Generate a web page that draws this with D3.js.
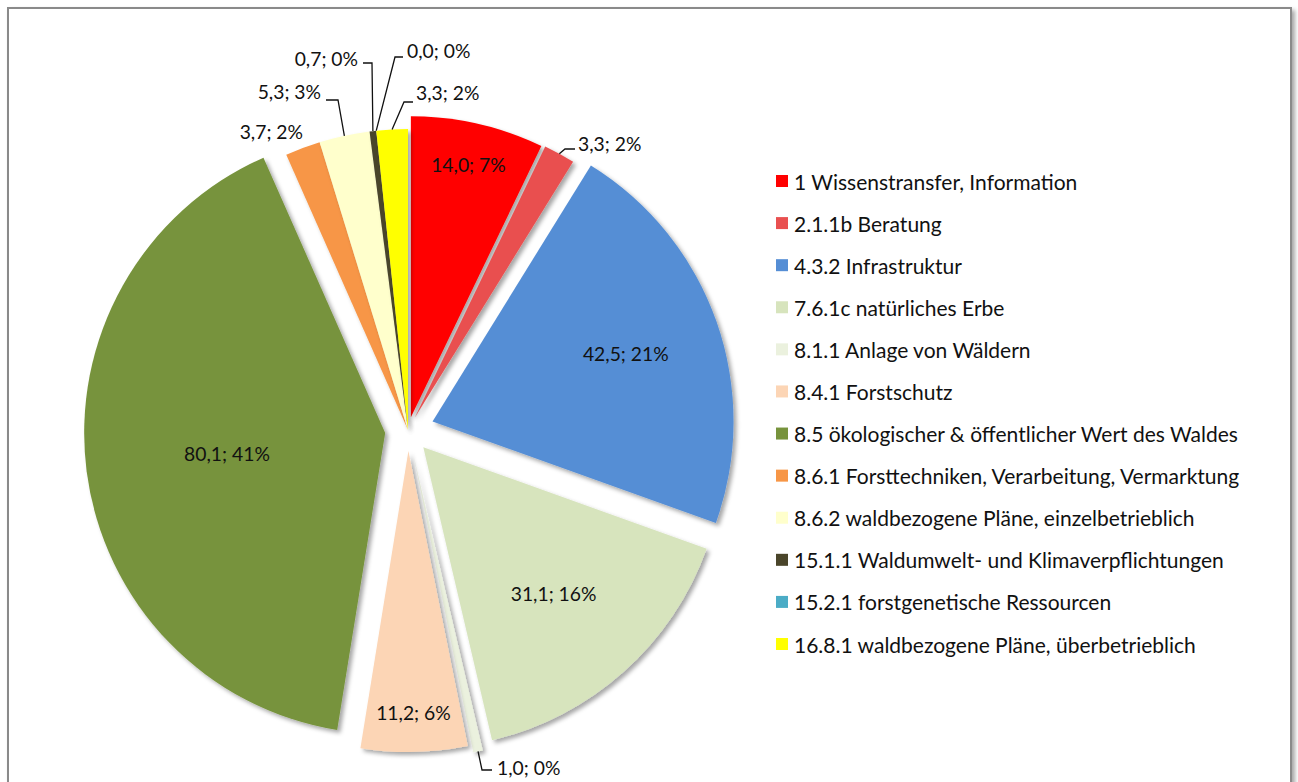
<!DOCTYPE html>
<html>
<head>
<meta charset="utf-8">
<script src="https://cdn.jsdelivr.net/npm/d3@7"></script>
<style>
  body { margin: 0; background: #fff; }
  text { font-family: Lato, "Noto Sans", sans-serif; fill: #111; }
</style>
</head>
<body>
<svg id="chart" width="1298" height="782"></svg>
<script>
// data
const categories = [
  "1 Wissenstransfer, Information",
  "2.1.1b Beratung",
  "4.3.2 Infrastruktur",
  "7.6.1c natürliches Erbe",
  "8.1.1 Anlage von Wäldern",
  "8.4.1 Forstschutz",
  "8.5 ökologischer & öffentlicher Wert des Waldes",
  "8.6.1 Forsttechniken, Verarbeitung, Vermarktung",
  "8.6.2 waldbezogene  Pläne, einzelbetrieblich",
  "15.1.1 Waldumwelt-  und Klimaverpflichtungen",
  "15.2.1 forstgenetische Ressourcen",
  "16.8.1 waldbezogene Pläne, überbetrieblich"
];
const values = [14.0, 3.3, 42.5, 31.1, 1.0, 11.2, 80.1, 3.7, 5.3, 0.7, 0.0, 3.3];
const percents = [7, 2, 21, 16, 0, 6, 41, 2, 3, 0, 0, 2];
const colors = ["#ff0000", "#e95050", "#558ed5", "#d7e4bd", "#ebf1de", "#fcd5b5",
                "#77933c", "#f79646", "#ffffcc", "#4a452a", "#4bacc6", "#ffff00"];

// styling / layout
const cx = 408, cy = 430, radius = 301;
const explode = [13, 14, 26, 23, 28, 21, 23, 0, 0, 0, 0, 0];
const insideLabels = {0: 0.86, 2: 0.68, 3: 0.65, 5: 0.87, 6: 0.53};
// outside labels: leader polyline points and text spot, relative to pie centre
const outsideLabels = {
  1:  {pts: [[157, -281], [167, -281]], tx: 170, ty: -287, anchor: "start"},
  4:  {pts: [[74, 340], [84, 340]], tx: 89, ty: 337, anchor: "start"},
  7:  {pts: null, tx: -105, ty: -299, anchor: "end"},
  8:  {pts: [[-70, -330], [-82, -330]], tx: -87, ty: -339, anchor: "end"},
  9:  {pts: [[-36, -367], [-45, -367]], tx: -50, ty: -372, anchor: "end"},
  10: {pts: [[-13, -373], [-5, -373]], tx: -1, ty: -380, anchor: "start"},
  11: {pts: [[-4, -328], [5, -328]], tx: 8, ty: -338, anchor: "start"}
};
const labelSize = "19.3px", legendSize = "21px";

const fmt = v => d3.format(".1f")(v).replace(".", ",");
const labelText = i => fmt(values[i]) + "; " + percents[i] + "%";

const svg = d3.select("#chart");
const defs = svg.append("defs");
const sh = defs.append("filter").attr("id", "shadow")
  .attr("x", "-10%").attr("y", "-10%").attr("width", "130%").attr("height", "130%");
sh.append("feDropShadow").attr("dx", 3).attr("dy", 3).attr("stdDeviation", 2.2)
  .attr("flood-color", "#000").attr("flood-opacity", 0.35);

// chart frame
svg.append("rect")
  .attr("x", 8).attr("y", 8).attr("width", 1283).attr("height", 800)
  .attr("fill", "#fff").attr("stroke", "#8a8a8a").attr("stroke-width", 2)
  .attr("filter", "url(#shadow)");

const pie = d3.pie().sort(null).value(d => d);
const arcs = pie(values);
const arc = d3.arc().innerRadius(0).outerRadius(radius);

const mid = d => (d.startAngle + d.endAngle) / 2;
const shift = (d, i) => [explode[i] * Math.sin(mid(d)), -explode[i] * Math.cos(mid(d))];

const g = svg.append("g").attr("transform", `translate(${cx},${cy})`);

g.selectAll("path.slice").data(arcs).enter().append("path")
  .attr("class", "slice")
  .attr("d", arc)
  .attr("fill", (d, i) => colors[i])
  .attr("filter", "url(#shadow)")
  .attr("transform", (d, i) => `translate(${shift(d, i)})`);

// inside labels
Object.keys(insideLabels).forEach(k => {
  const i = +k, d = arcs[i], s = shift(d, i), r = radius * insideLabels[k];
  g.append("text")
    .attr("x", s[0] + r * Math.sin(mid(d)))
    .attr("y", s[1] - r * Math.cos(mid(d)))
    .attr("text-anchor", "middle").attr("dominant-baseline", "central")
    .style("font-size", labelSize)
    .text(labelText(i));
});

// outside labels with leader lines
Object.keys(outsideLabels).forEach(k => {
  const i = +k, d = arcs[i], s = shift(d, i), o = outsideLabels[k];
  const start = [s[0] + radius * Math.sin(mid(d)), s[1] - radius * Math.cos(mid(d))];
  if (o.pts) {
    g.append("path")
      .attr("d", d3.line()([start].concat(o.pts)))
      .attr("fill", "none").attr("stroke", "#111").attr("stroke-width", 1.3);
  }
  g.append("text")
    .attr("x", o.tx).attr("y", o.ty)
    .attr("text-anchor", o.anchor).attr("dominant-baseline", "central")
    .style("font-size", labelSize)
    .text(labelText(i));
});

// legend
const legend = svg.append("g").attr("transform", "translate(776,181)");
const ly = d3.scaleLinear().domain([0, categories.length - 1]).range([0, 463]);
const item = legend.selectAll("g").data(categories).enter().append("g")
  .attr("transform", (d, i) => `translate(0,${ly(i)})`);
item.append("rect").attr("x", 0).attr("y", -6).attr("width", 12).attr("height", 12)
  .attr("fill", (d, i) => colors[i]);
item.append("text").attr("x", 18).attr("y", 0).attr("dominant-baseline", "central")
  .style("font-size", legendSize)
  .text(d => d);
</script>
</body>
</html>
